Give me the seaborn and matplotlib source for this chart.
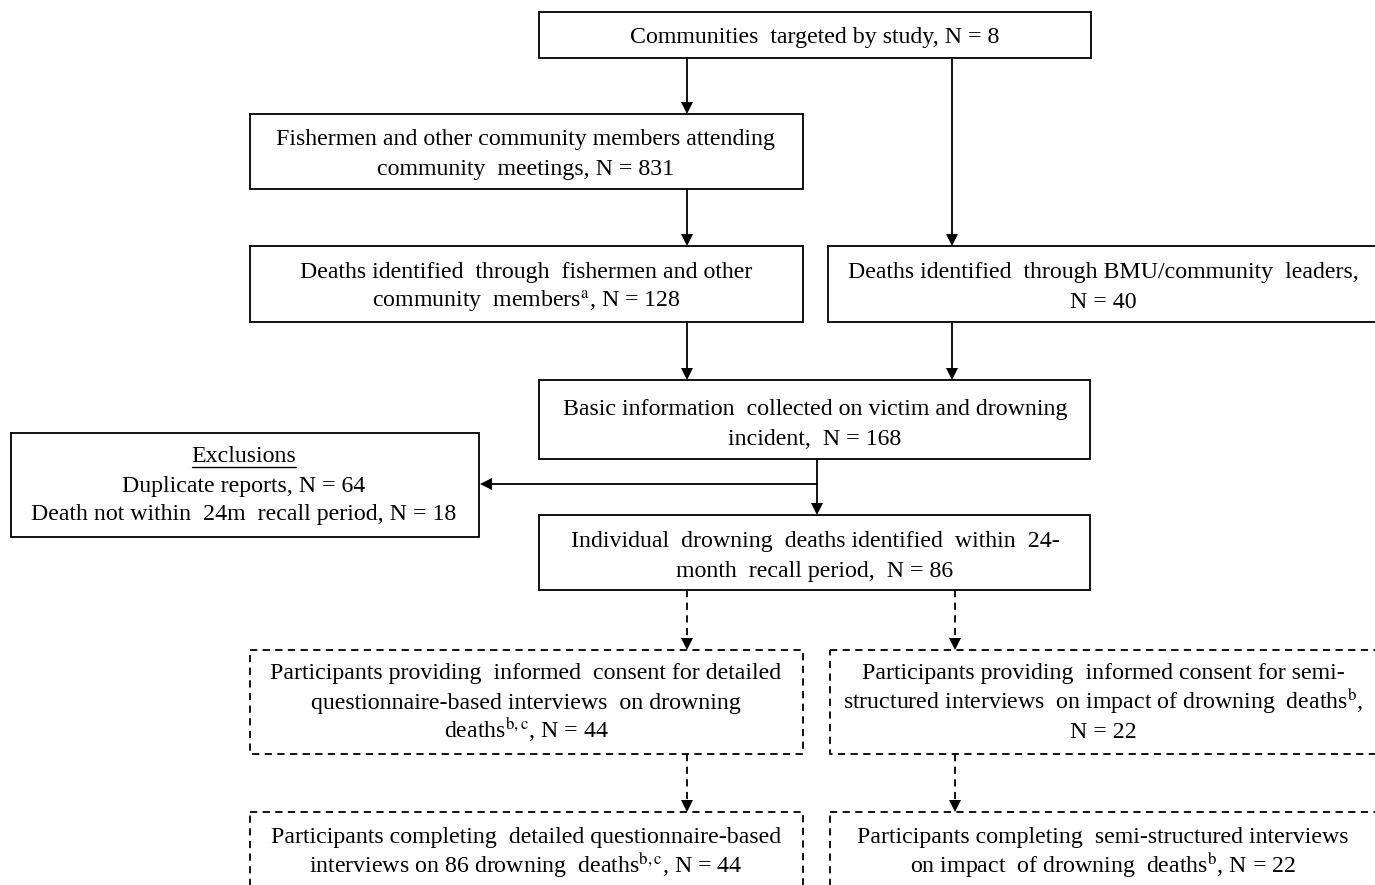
import matplotlib
matplotlib.use("Agg")
import matplotlib.pyplot as plt
import seaborn as sns

# ---- data: box texts (lines) ----
communities_lines = ["Communities  targeted by study, N = 8"]
meetings_lines = ["Fishermen and other community members attending",
                  "community  meetings, N = 831"]
fishermen_deaths_lines = ["Deaths identified  through  fishermen and other",
                          "community  members$^{\\rm a}$, N = 128"]
bmu_deaths_lines = ["Deaths identified  through BMU/community  leaders,",
                    "N = 40"]
basic_info_lines = ["Basic information  collected on victim and drowning",
                    "incident,  N = 168"]
exclusion_lines = ["Exclusions",
                   "Duplicate reports, N = 64",
                   "Death not within  24m  recall period, N = 18"]
individual_lines = ["Individual  drowning  deaths identified  within  24-",
                    "month  recall period,  N = 86"]
consent_q_lines = ["Participants providing  informed  consent for detailed",
                   "questionnaire-based interviews  on drowning",
                   "deaths$^{\\rm b,c}$, N = 44"]
consent_s_lines = ["Participants providing  informed consent for semi-",
                   "structured interviews  on impact of drowning  deaths$^{\\rm b}$,",
                   "N = 22"]
complete_q_lines = ["Participants completing  detailed questionnaire-based",
                    "interviews on 86 drowning  deaths$^{\\rm b,c}$, N = 44"]
complete_s_lines = ["Participants completing  semi-structured interviews",
                    "on impact  of drowning  deaths$^{\\rm b}$, N = 22"]

sns.set_theme(style="white")
plt.rcParams["font.family"] = ["Liberation Serif", "DejaVu Serif"]
plt.rcParams["mathtext.fontset"] = "stix"

fig = plt.figure(figsize=(13.75, 8.85), dpi=100)
ax = fig.add_axes([0, 0, 1, 1])
ax.set_xlim(0, 1375)
ax.set_ylim(885, 0)
ax.axis("off")

FS = 17.2
LW = 1.3
DASH = (0, (4, 3))


def box(x0, y0, x1, y1, dashed=False):
    ax.plot([x0, x1, x1, x0, x0], [y0, y0, y1, y1, y0], color="black",
            lw=LW, linestyle=DASH if dashed else "-", solid_joinstyle="miter",
            clip_on=True)


def lines_text(cx, ys, lines):
    objs = []
    for y, s in zip(ys, lines):
        objs.append(ax.text(cx, y, s, ha="center", va="baseline", fontsize=FS,
                            color="black"))
    return objs


def varrow(x, y0, y1, dashed=False):
    ax.plot([x, x], [y0, y1 - 6], color="black", lw=LW,
            linestyle=DASH if dashed else "-")
    ax.plot([x], [y1 - 6], marker="v", color="black", markersize=9,
            markeredgewidth=0)


# boxes
box(539, 12, 1091, 58)
lines_text(815, [43], communities_lines)

box(250, 114, 803, 189)
lines_text(526, [145, 175], meetings_lines)

box(250, 246, 803, 322)
lines_text(526, [278, 308], fishermen_deaths_lines)

box(828, 246, 1378, 322)
lines_text(1103, [278, 308], bmu_deaths_lines)

box(539, 380, 1090, 459)
lines_text(815, [415, 445], basic_info_lines)

box(11, 433, 479, 537)
ex = lines_text(244, [462, 492, 520], exclusion_lines)

box(539, 515, 1090, 590)
lines_text(815, [547, 577], individual_lines)

box(250, 650, 803, 754, dashed=True)
lines_text(526, [679, 709, 738], consent_q_lines)

box(830, 650, 1378, 754, dashed=True)
lines_text(1103, [679, 709, 738], consent_s_lines)

box(250, 812, 803, 900, dashed=True)
lines_text(526, [843, 873], complete_q_lines)

box(830, 812, 1378, 900, dashed=True)
lines_text(1103, [843, 873], complete_s_lines)

# underline "Exclusions"
fig.canvas.draw()
bb = ex[0].get_window_extent().transformed(ax.transData.inverted())
ax.plot([bb.x0, bb.x1], [467, 467], color="black", lw=1.0)

# arrows
varrow(687, 58, 114)
varrow(952, 58, 246)
varrow(687, 189, 246)
varrow(687, 322, 380)
varrow(952, 322, 380)
varrow(817, 459, 515)
ax.plot([817, 479 + 8], [484, 484], color="black", lw=LW)
ax.plot([479 + 7], [484], marker="<", color="black", markersize=9,
        markeredgewidth=0)
varrow(687, 590, 650, dashed=True)
varrow(955, 590, 650, dashed=True)
varrow(687, 754, 812, dashed=True)
varrow(955, 754, 812, dashed=True)

fig.savefig("out.png", dpi=100, facecolor="white")
